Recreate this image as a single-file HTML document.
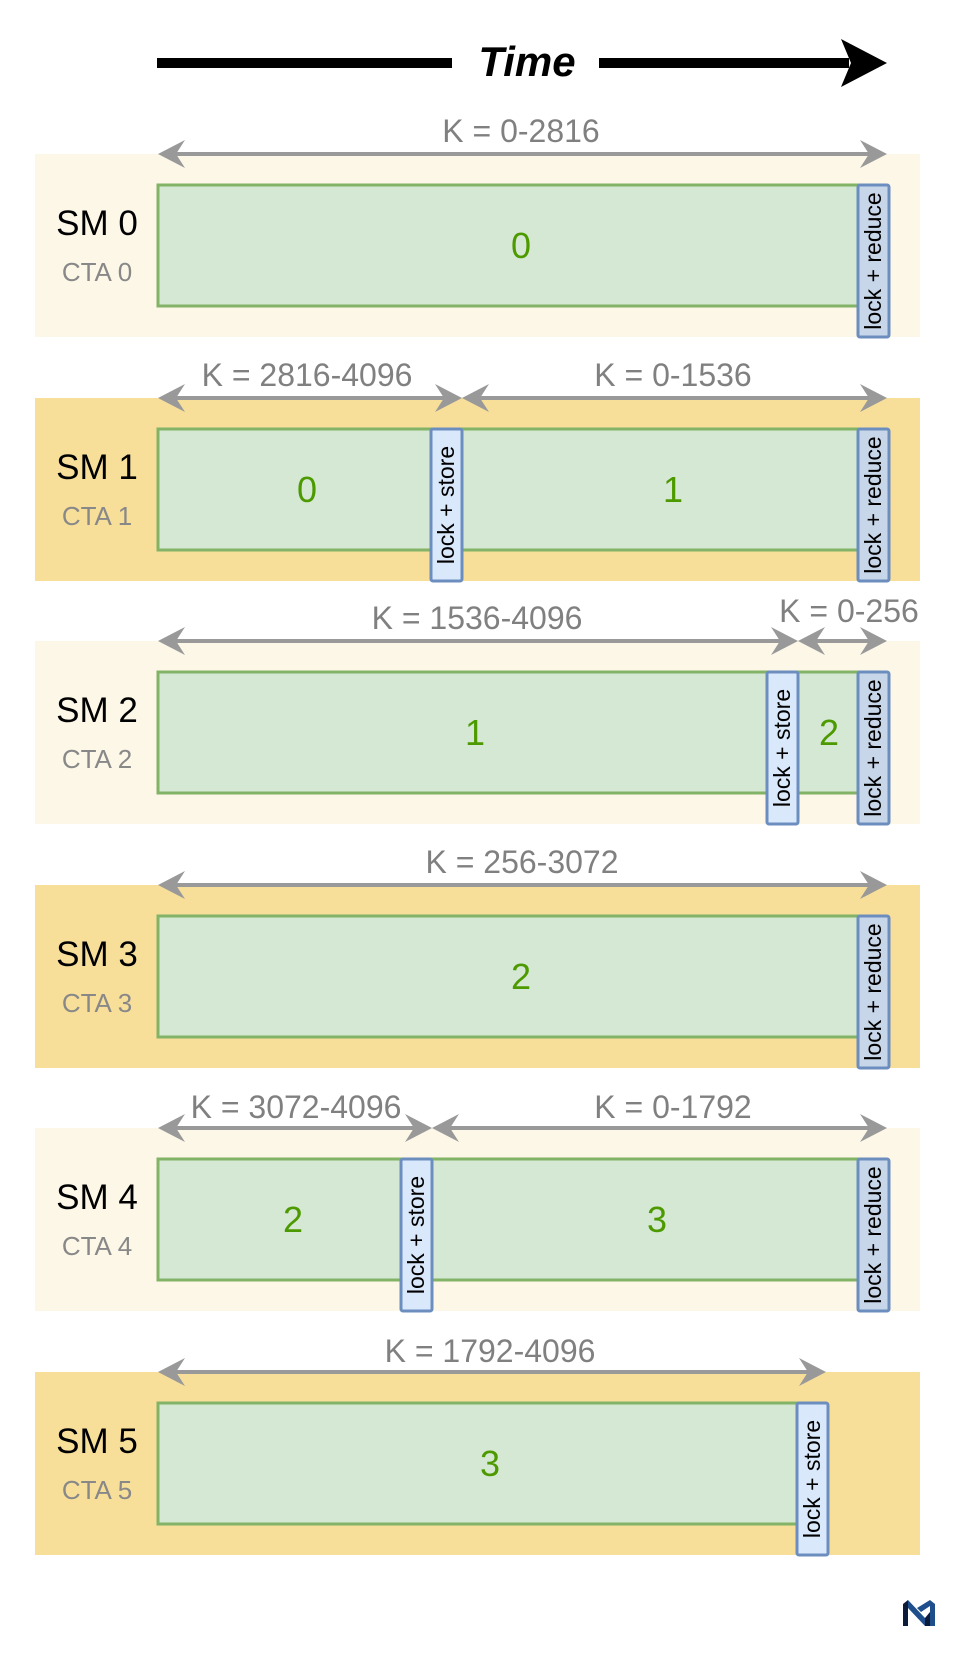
<!DOCTYPE html>
<html><head><meta charset="utf-8"><style>
html,body{margin:0;padding:0;background:#fff;}
svg{display:block;}
text{font-family:"Liberation Sans",Arial,sans-serif;}
.k{font-size:32px;fill:#808080;text-anchor:middle;}
.sm{font-size:35px;fill:#000;text-anchor:middle;}
.cta{font-size:26px;fill:#888;text-anchor:middle;}
.n{font-size:36px;fill:#4d9a00;text-anchor:middle;}
.g{fill:#d5e8d4;stroke:#82b366;stroke-width:3;}
.ls{fill:#dae8fc;stroke:#6c8ebf;stroke-width:3;}
.lr{fill:#c8d6ea;stroke:#6c8ebf;stroke-width:3;}
.lt{font-size:23px;fill:#000;text-anchor:middle;}
.a{stroke:#999;stroke-width:4;}
.h{fill:#999;}
</style></head><body>
<svg width="970" height="1653" viewBox="0 0 970 1653" xmlns="http://www.w3.org/2000/svg">
<defs>
<polygon id="hr" class="h" points="0,0 -27,-14 -18,0 -27,14"/>
<polygon id="hl" class="h" points="0,0 27,-14 18,0 27,14"/>
</defs>
<rect x="157" y="58" width="295" height="10" fill="#000"/>
<text x="527" y="76" style="font-size:42px;font-weight:bold;font-style:italic;text-anchor:middle">Time</text>
<rect x="599" y="58" width="250" height="10" fill="#000"/>
<polygon points="887,63 841,39 851,63 841,87" fill="#000"/>

<g transform="translate(0,154)">
<rect x="35" y="0" width="885" height="183" fill="#fdf7e7"/>
<line class="a" x1="170" y1="0" x2="875" y2="0"/><use href="#hl" x="158" y="0"/><use href="#hr" x="887" y="0"/>
<text class="k" x="521" y="-12">K = 0-2816</text>
<text class="sm" x="97" y="81">SM 0</text><text class="cta" x="97" y="127">CTA 0</text>
<rect class="g" x="158" y="31" width="702" height="121"/>
<text class="n" x="521" y="104">0</text>
<rect class="lr" x="858" y="31" width="31" height="152" rx="2"/>
<text class="lt" transform="translate(881,107) rotate(-90)">lock + reduce</text>
</g>

<g transform="translate(0,398)">
<rect x="35" y="0" width="885" height="183" fill="#f7df9a"/>
<line class="a" x1="170" y1="0" x2="452" y2="0"/><use href="#hl" x="158" y="0"/><use href="#hr" x="462" y="0"/>
<line class="a" x1="475" y1="0" x2="875" y2="0"/><use href="#hl" x="462" y="0"/><use href="#hr" x="887" y="0"/>
<text class="k" x="307" y="-12">K = 2816-4096</text>
<text class="k" x="673" y="-12">K = 0-1536</text>
<text class="sm" x="97" y="81">SM 1</text><text class="cta" x="97" y="127">CTA 1</text>
<rect class="g" x="158" y="31" width="702" height="121"/>
<text class="n" x="307" y="104">0</text>
<text class="n" x="673" y="104">1</text>
<rect class="ls" x="431" y="31" width="31" height="152" rx="2"/>
<text class="lt" transform="translate(454,107) rotate(-90)">lock + store</text>
<rect class="lr" x="858" y="31" width="31" height="152" rx="2"/>
<text class="lt" transform="translate(881,107) rotate(-90)">lock + reduce</text>
</g>

<g transform="translate(0,641)">
<rect x="35" y="0" width="885" height="183" fill="#fdf7e7"/>
<line class="a" x1="170" y1="0" x2="788" y2="0"/><use href="#hl" x="158" y="0"/><use href="#hr" x="798" y="0"/>
<line class="a" x1="810" y1="0" x2="875" y2="0"/><use href="#hl" x="798" y="0"/><use href="#hr" x="887" y="0"/>
<text class="k" x="477" y="-12">K = 1536-4096</text>
<text class="k" x="849" y="-19">K = 0-256</text>
<text class="sm" x="97" y="81">SM 2</text><text class="cta" x="97" y="127">CTA 2</text>
<rect class="g" x="158" y="31" width="702" height="121"/>
<text class="n" x="475" y="104">1</text>
<text class="n" x="829" y="104">2</text>
<rect class="ls" x="767" y="31" width="31" height="152" rx="2"/>
<text class="lt" transform="translate(790,107) rotate(-90)">lock + store</text>
<rect class="lr" x="858" y="31" width="31" height="152" rx="2"/>
<text class="lt" transform="translate(881,107) rotate(-90)">lock + reduce</text>
</g>

<g transform="translate(0,885)">
<rect x="35" y="0" width="885" height="183" fill="#f7df9a"/>
<line class="a" x1="170" y1="0" x2="875" y2="0"/><use href="#hl" x="158" y="0"/><use href="#hr" x="887" y="0"/>
<text class="k" x="522" y="-12">K = 256-3072</text>
<text class="sm" x="97" y="81">SM 3</text><text class="cta" x="97" y="127">CTA 3</text>
<rect class="g" x="158" y="31" width="702" height="121"/>
<text class="n" x="521" y="104">2</text>
<rect class="lr" x="858" y="31" width="31" height="152" rx="2"/>
<text class="lt" transform="translate(881,107) rotate(-90)">lock + reduce</text>
</g>

<g transform="translate(0,1128)">
<rect x="35" y="0" width="885" height="183" fill="#fdf7e7"/>
<line class="a" x1="170" y1="0" x2="422" y2="0"/><use href="#hl" x="158" y="0"/><use href="#hr" x="432" y="0"/>
<line class="a" x1="444" y1="0" x2="875" y2="0"/><use href="#hl" x="432" y="0"/><use href="#hr" x="887" y="0"/>
<text class="k" x="296" y="-10">K = 3072-4096</text>
<text class="k" x="673" y="-10">K = 0-1792</text>
<text class="sm" x="97" y="81">SM 4</text><text class="cta" x="97" y="127">CTA 4</text>
<rect class="g" x="158" y="31" width="702" height="121"/>
<text class="n" x="293" y="104">2</text>
<text class="n" x="657" y="104">3</text>
<rect class="ls" x="401" y="31" width="31" height="152" rx="2"/>
<text class="lt" transform="translate(424,107) rotate(-90)">lock + store</text>
<rect class="lr" x="858" y="31" width="31" height="152" rx="2"/>
<text class="lt" transform="translate(881,107) rotate(-90)">lock + reduce</text>
</g>

<g transform="translate(0,1372)">
<rect x="35" y="0" width="885" height="183" fill="#f7df9a"/>
<line class="a" x1="170" y1="0" x2="814" y2="0"/><use href="#hl" x="158" y="0"/><use href="#hr" x="826" y="0"/>
<text class="k" x="490" y="-10">K = 1792-4096</text>
<text class="sm" x="97" y="81">SM 5</text><text class="cta" x="97" y="127">CTA 5</text>
<rect class="g" x="158" y="31" width="641" height="121"/>
<text class="n" x="490" y="104">3</text>
<rect class="ls" x="797" y="31" width="31" height="152" rx="2"/>
<text class="lt" transform="translate(820,107) rotate(-90)">lock + store</text>
</g>

<g transform="translate(903,1600)">
<polygon points="0,4 5,0 5,26 0,26" fill="#0d1b3a"/>
<polygon points="5,0 22,18 22,26 5,8" fill="#1f4e8c"/>
<polygon points="22,18 27,12 27,26 22,26" fill="#0d1b3a"/>
<polygon points="14,8 27,0 32,4 32,26 27,26 27,6 18,12" fill="#1f4e8c"/>
</g>
</svg>
</body></html>
